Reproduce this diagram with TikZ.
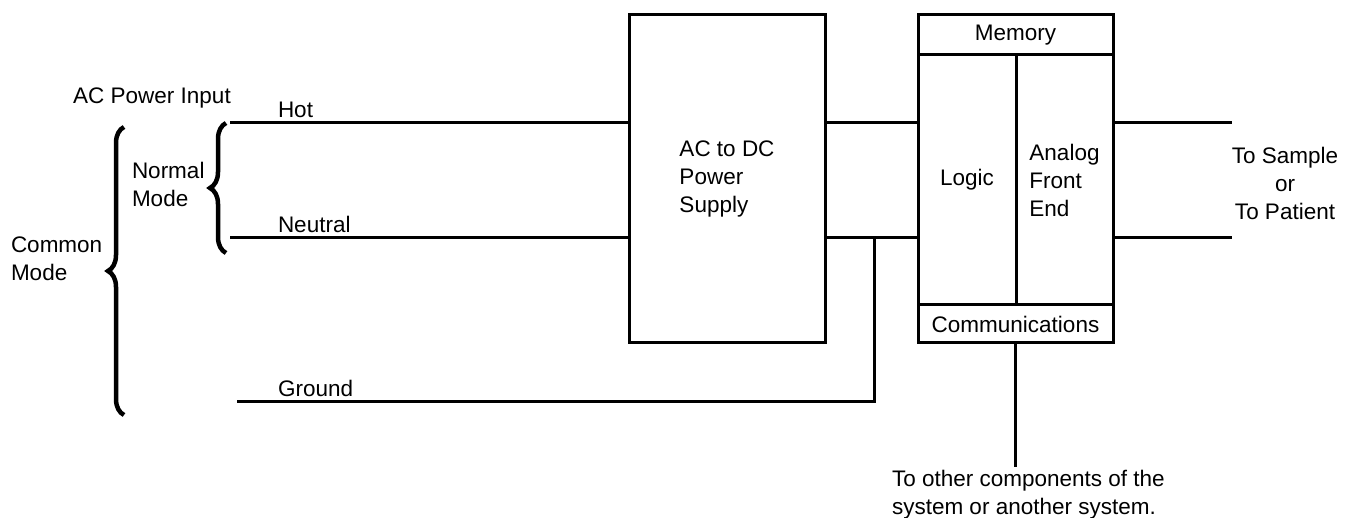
\documentclass[tikz,border=0pt]{standalone}
\usepackage{fontspec}
\setmainfont{Liberation Sans}
\usetikzlibrary{decorations.pathreplacing}
\begin{document}
\begin{tikzpicture}[x=1pt,y=-1pt,
  every node/.style={font=\fontsize{22.5}{28}\selectfont},
  box/.style={draw,line width=3pt,rectangle,inner sep=0pt,outer sep=0pt},
  lbl/.style={inner sep=0pt,outer sep=0pt},
  wire/.style={line width=3pt},
  bracemark/.style={decorate,decoration={brace,amplitude=16pt},line width=4.5pt}]
\useasboundingbox (0,0) rectangle (1350,518);
% blocks
\node[box,minimum width=196pt,minimum height=328pt,align=left] (ps) at (727,179) {AC to DC\\Power\\Supply};
\node[box,minimum width=195pt,minimum height=40pt] (mem) at (1015.5,35) {Memory};
\node[box,minimum width=98pt,minimum height=250pt] (logic) at (967,180) {Logic};
\node[box,minimum width=97pt,minimum height=250pt,align=left] (afe) at (1064.5,180) {Analog\\Front\\End};
\node[box,minimum width=195pt,minimum height=38pt] (comm) at (1015.5,324) {Communications};
% free ends
\coordinate (hotL) at (230,123);
\coordinate (neuL) at (230,238);
\coordinate (gndL) at (237,402);
\coordinate (gj) at (874,238);
\coordinate (outH) at (1232,123);
\coordinate (outN) at (1232,238);
\coordinate (commEnd) at (1015.5,467);
% wires
\draw[wire] (hotL) -- (ps.west |- hotL);
\draw[wire] (neuL) -- (ps.west |- neuL);
\draw[wire] (ps.east |- hotL) -- (logic.west |- hotL);
\draw[wire] (ps.east |- neuL) -- (logic.west |- neuL);
\draw[wire] (gndL) -| (gj);
\draw[wire] (afe.east |- hotL) -- (outH);
\draw[wire] (afe.east |- neuL) -- (outN);
\draw[wire] (comm.south) -- (commEnd);
% braces
\coordinate (bigB) at (124,415);
\coordinate (bigT) at (124,127);
\coordinate (smB) at (226,253);
\coordinate (smT) at (226,123);
\draw[bracemark] (bigB) -- (bigT);
\draw[bracemark] (smB) -- (smT);
% labels
\node[lbl] (acin) at (152,98) {AC Power Input};
\node[lbl,anchor=base west] (hot) at (278,118) {Hot};
\node[lbl,anchor=base west] (neu) at (278,233) {Neutral};
\node[lbl,anchor=base west] (gnd) at (278,397) {Ground};
\node[lbl,anchor=west,align=left] (nm) at (132,184) {Normal\\Mode};
\node[lbl,anchor=west,align=left] (cm) at (11,259) {Common\\Mode};
\node[lbl,align=center] (out) at (1285,183) {To Sample\\or\\To Patient};
\node[lbl,anchor=west,align=left] (other) at (892,495) {To other components of the\\system or another system.};
\end{tikzpicture}
\end{document}
